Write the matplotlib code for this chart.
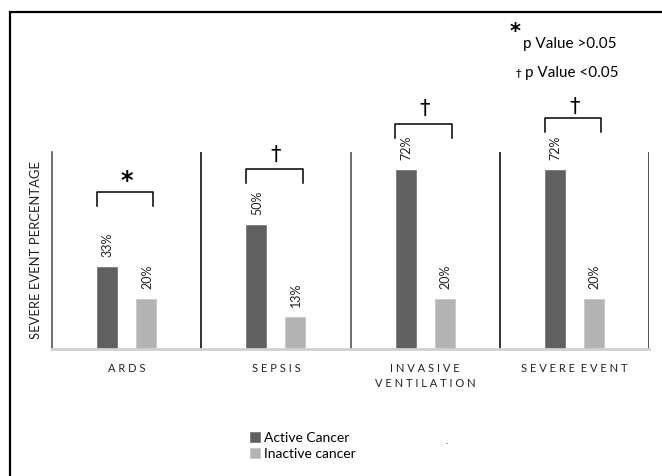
import matplotlib
matplotlib.use("Agg")
import matplotlib.pyplot as plt
from matplotlib.patches import Rectangle
import numpy as np

plt.rcParams['font.family'] = ['Lato', 'DejaVu Sans']

categories = ["A R D S", "S E P S I S", "I N V A S I V E\nV E N T I L A T I O N", "S E V E R E  E V E N T"]
active = [33, 50, 72, 72]
inactive = [20, 13, 20, 20]
active_lbl = ["33%", "50%", "72%", "72%"]
inactive_lbl = ["20%", "13%", "20%", "20%"]
sig_marks = ["*", "†", "†", "†"]
series_names = ["Active Cancer", "Inactive cancer"]
ylabel = "SEVERE EVENT PERCENTAGE"

# bracket heights (data units) and symbol heights
br_top = [63.2, 72.4, 90.5, 92.9]
br_drop = 5.6
sym_y = [67.5, 78.0, 96.5, 97.3]

fig = plt.figure(figsize=(6.62, 4.76), dpi=100)
W, H = 662, 476
ax = fig.add_axes([52 / W, 1 - 349 / H, (649 - 52) / W, (349 - 152) / H])

x = np.arange(len(categories))
bw = 0.134
off = 0.131
dark, light = "#606060", "#b3b3b3"
b1 = ax.bar(x - off, active, bw, color=dark, edgecolor="#7a7a7a", linewidth=0.6, label=series_names[0])
b2 = ax.bar(x + off, inactive, bw, color=light, edgecolor="#c8c8c8", linewidth=0.6, label=series_names[1])

ax.set_xlim(-0.5, 3.5)
ax.set_ylim(0, 79.2)
for s in ["top", "right"]:
    ax.spines[s].set_visible(False)
ax.spines["bottom"].set_color("#d0d0d0")
ax.spines["bottom"].set_linewidth(2)
ax.spines["left"].set_color("#555555")
ax.spines["left"].set_linewidth(1.2)
ax.set_yticks([])
ax.set_xticks(x)
ax.set_xticklabels(categories, fontsize=8, color="#222222", linespacing=1.5)
ax.tick_params(axis="x", length=0, pad=10)

for sx, c in zip([0.5, 1.5, 2.5, 3.5], ["#111111", "#555555", "#111111", "#333333"]):
    ax.axvline(sx, 0, 1, color=c, linewidth=1.2)

for i in range(len(categories)):
    ax.text(x[i] - off + 0.005, active[i] + 4, active_lbl[i], rotation=90, ha="center", va="bottom",
            fontsize=9, color="#222222", clip_on=False)
    ax.text(x[i] + off + 0.005, inactive[i] + 4, inactive_lbl[i], rotation=90, ha="center", va="bottom",
            fontsize=9, color="#222222")
    xl, xr = x[i] - 0.2, x[i] + 0.18
    t = br_top[i]
    ax.plot([xl, xl, xr, xr], [t - br_drop, t, t, t - br_drop], color="black", lw=1.1,
            clip_on=False, solid_joinstyle="round")
    if sig_marks[i] == "*":
        ax.text(x[i], sym_y[i], "*", ha="center", va="center", fontsize=17, fontweight="bold",
                family="DejaVu Sans", clip_on=False)
    else:
        ax.text(x[i], sym_y[i], "†", ha="center", va="center", fontsize=15,
                family="DejaVu Sans", clip_on=False)

ax.set_ylabel(ylabel, fontsize=9.4, color="#222222", labelpad=7)

# significance key
ptxt = fig.text(523 / W, 1 - 44 / H, "p Value >0.05", fontsize=11, ha="left", va="center")
fig.text(515 / W, 1 - 32 / H, "*", fontsize=15, fontweight="bold", family="DejaVu Sans",
         ha="center", va="center")
fig.text(516 / W, 1 - 73 / H, "†", fontsize=8, family="DejaVu Sans", ha="left", va="center")
fig.text(525 / W, 1 - 73 / H, "p Value <0.05", fontsize=11, ha="left", va="center")
fig.text(447 / W, 1 - 442 / H, ".", fontsize=7, ha="center", va="center")

# border
fig.patches.append(Rectangle((10 / W, -0.1), 1.0, (476 - 12) / H + 0.1, transform=fig.transFigure,
                             fill=False, edgecolor="black", linewidth=1.6))

leg = fig.legend(handles=[b1, b2], labels=series_names, loc="upper left",
                 bbox_to_anchor=(250 / W, 1 - 432 / H), frameon=False, fontsize=10,
                 handlelength=0.7, handleheight=0.7, handletextpad=0.3, labelspacing=0.3,
                 borderpad=0, borderaxespad=0)

fig.savefig("out.png", dpi=100)
